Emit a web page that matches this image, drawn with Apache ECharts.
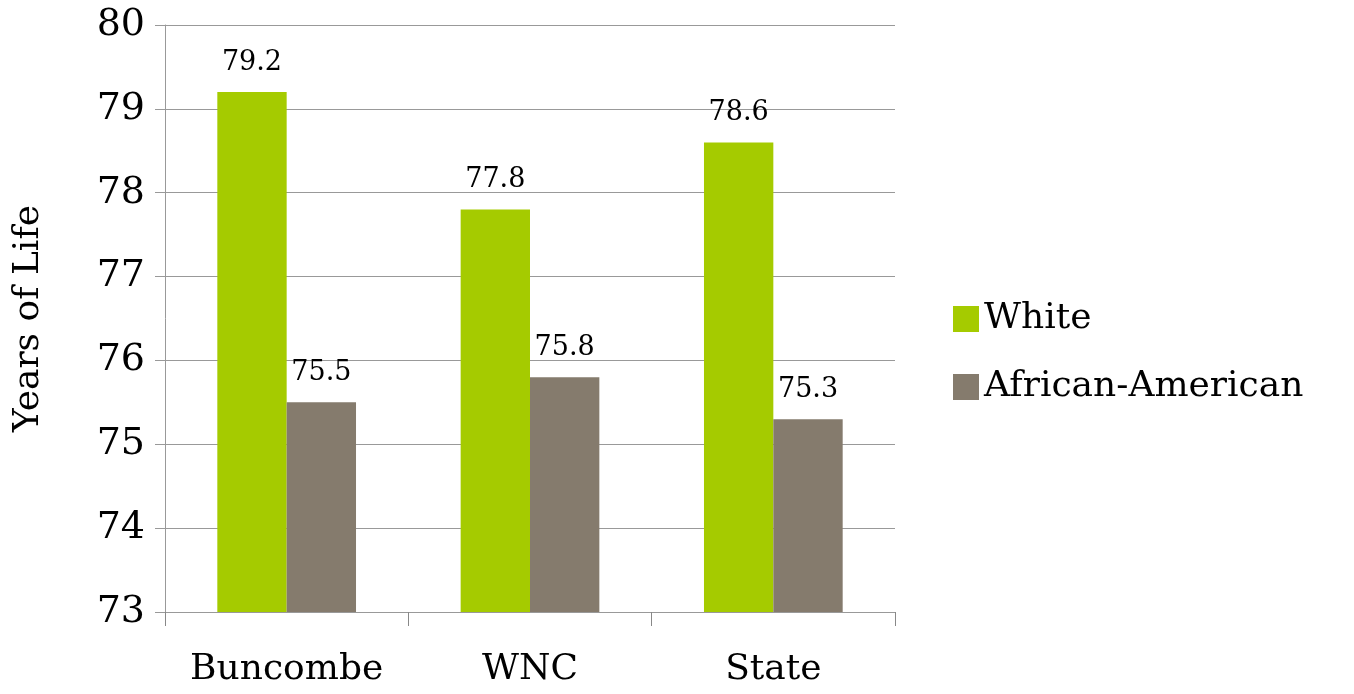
<!DOCTYPE html>
<html><head><meta charset="utf-8">
<script src="https://cdn.jsdelivr.net/npm/echarts@6/dist/echarts.min.js"></script>
<style>html,body{margin:0;padding:0;background:#fff}#c{width:1354px;height:694px}</style>
</head><body><div id="c"></div>
<script>
const categories = ['Buncombe', 'WNC', 'State'];
const white = [79.2, 77.8, 78.6];
const africanAmerican = [75.5, 75.8, 75.3];
const font = 'DejaVu Serif';
const chart = echarts.init(document.getElementById('c'));
chart.setOption({
  animation: false,
  textStyle: { fontFamily: font },
  grid: { left: 165, right: 459, top: 25, bottom: 82 },
  legend: {
    orient: 'vertical', left: 948, top: 296, itemWidth: 26, itemHeight: 26, itemGap: 32, icon: 'rect',
    textStyle: { fontSize: 36, fontFamily: font, color: '#000' },
    data: ['White', 'African-American']
  },
  xAxis: {
    type: 'category', data: categories,
    axisLine: { lineStyle: { color: '#999' } },
    axisTick: { show: true, interval: 0, length: 14, lineStyle: { color: '#888' } },
    axisLabel: { interval: 0, fontSize: 36, color: '#000', margin: 40, fontFamily: font }
  },
  yAxis: {
    type: 'value', min: 73, max: 80, interval: 1,
    name: 'Years of Life', nameLocation: 'middle', nameGap: 118, nameRotate: 90,
    nameTextStyle: { fontSize: 36, color: '#000', fontFamily: font },
    axisLine: { show: true, lineStyle: { color: '#999' } },
    axisTick: { show: true, length: 10, inside: false, lineStyle: { color: '#999' } },
    splitLine: { lineStyle: { color: '#999' } },
    axisLabel: { fontSize: 38, color: '#000', margin: 20, fontFamily: font }
  },
  series: [
    { name: 'White', type: 'bar', data: white, barGap: '0%', barCategoryGap: '43%',
      itemStyle: { color: '#a5cb00' },
      label: { show: true, position: 'top', distance: 16, fontSize: 27, color: '#000', fontFamily: font } },
    { name: 'African-American', type: 'bar', data: africanAmerican,
      itemStyle: { color: '#857b6d' },
      label: { show: true, position: 'top', distance: 16, fontSize: 27, color: '#000', fontFamily: font } }
  ]
});
</script></body></html>
